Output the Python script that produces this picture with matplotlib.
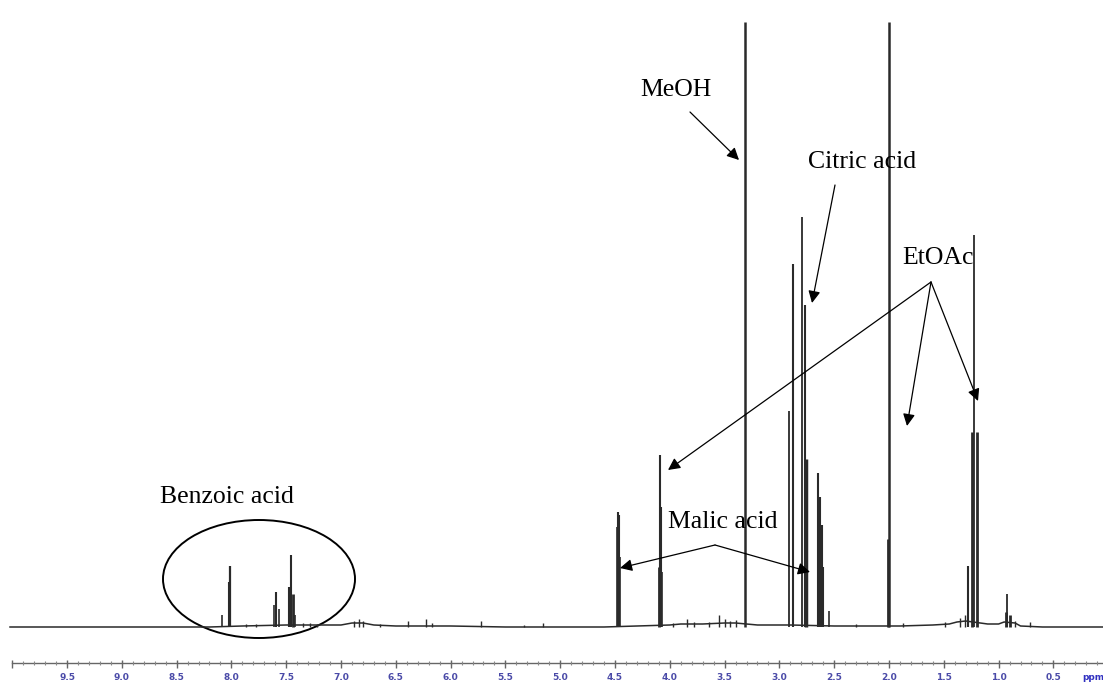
"""
1H NMR spectrum with annotated compounds (benzoic, malic, citric acid, MeOH, EtOAc).
"""

import numpy as np
import matplotlib.pyplot as plt
from matplotlib.patches import Ellipse

# peak list: shift (ppm), height above baseline, line width
peak_ppm = [8.09, 8.02, 8.01, 7.87, 7.78, 7.61, 7.59, 7.57, 7.47, 7.46, 7.44, 7.42,
            7.35, 7.28, 7.22, 6.88, 6.84, 6.80, 6.64, 6.39, 6.22, 6.17, 5.72, 5.33, 5.16,
            4.48, 4.47, 4.46, 4.45, 4.10, 4.09, 4.08, 4.07,
            3.97, 3.84, 3.78, 3.64, 3.55, 3.50, 3.45, 3.40,
            3.31,
            2.91, 2.88, 2.79, 2.77, 2.76, 2.65, 2.63, 2.61, 2.60, 2.55, 2.30,
            2.00, 2.01, 1.87, 1.49, 1.35, 1.31, 1.28, 1.24, 1.22, 1.20,
            0.93, 0.92, 0.90, 0.85, 0.71]
peak_height = [12, 45, 61, 3, 3, 22, 35, 18, 40, 72, 33, 12,
               4, 4, 3, 6, 8, 6, 3, 6, 8, 4, 6, 2, 4,
               100, 115, 112, 70, 60, 172, 120, 55,
               4, 8, 5, 5, 12, 8, 6, 7,
               605,
               216, 363, 410, 322, 168, 154, 130, 102, 60, 16, 3,
               605, 88, 4, 5, 9, 12, 61, 195, 392, 195,
               15, 33, 12, 6, 5]
peak_lw = [1.2, 1.5, 1.6, 1, 1, 1.2, 1.5, 1.2, 1.5, 1.5, 2, 1.2,
           1, 1, 1, 1, 1, 1, 1, 1, 1, 1, 1, 1, 1,
           1.2, 1.5, 1.5, 1.2, 2, 1.5, 1.5, 1.2,
           1, 1, 1, 1, 1, 1, 1, 1,
           1.8,
           1.3, 1.5, 1.3, 1.5, 2.5, 1.5, 1.5, 1.5, 1.5, 1.2, 1,
           1.8, 2, 1, 1, 1, 1, 1.5, 2, 1.3, 2,
           2, 1.3, 2, 1, 1]

# slow baseline wander between the peaks
base_ppm = [10.02, 8.2, 7.9, 7.5, 7.3, 7.0, 6.9, 6.8, 6.7, 6.5, 6.0, 5.5, 5.0, 4.6,
            4.3, 4.0, 3.9, 3.7, 3.5, 3.4, 3.2, 2.9, 2.5, 2.2, 1.9, 1.6, 1.45, 1.38,
            1.3, 1.1, 1.0, 0.95, 0.85, 0.8, 0.6, 0.0]
base_height = [0, 0, 1, 2, 2, 2, 4, 4, 2, 1, 1, 0, 0, 0,
               1, 2, 3, 3, 4, 4, 2, 2, 1, 1, 1, 2, 3, 5,
               6, 3, 3, 5, 4, 1, 0, 0]

tick_major = [10.0, 9.5, 9.0, 8.5, 8.0, 7.5, 7.0, 6.5, 6.0, 5.5, 5.0,
              4.5, 4.0, 3.5, 3.0, 2.5, 2.0, 1.5, 1.0, 0.5, 0.0]
tick_labels = ['9.5', '9.0', '8.5', '8.0', '7.5', '7.0', '6.5', '6.0', '5.5', '5.0',
               '4.5', '4.0', '3.5', '3.0', '2.5', '2.0', '1.5', '1.0', '0.5']


def px(x, y):
    """pixel position in the 1103x684 image -> (ppm, height)"""
    return 9.5 - (x - 67) / 109.6, 627 - y


fig = plt.figure(figsize=(11.03, 6.84), dpi=100)
ax = fig.add_axes([0, 0, 1, 1])
ax.set_xlim(px(0, 0)[0], px(1103, 0)[0])
ax.set_ylim(627 - 684, 627)
ax.axis('off')

# spectrum
ax.plot(base_ppm, base_height, color='#2a2a2a', lw=1.1)
ax.vlines(peak_ppm, 0, peak_height, colors='#2a2a2a', linewidths=peak_lw)

# ppm scale
axis_y = 627 - 663
ax.plot([10.0, px(1103, 0)[0]], [axis_y, axis_y], color='#666666', lw=1.0)
minor = np.round(np.arange(0.1, 10.0, 0.1), 1)
ax.vlines(minor, axis_y - 2, axis_y + 2, colors='#888888', linewidths=0.8)
ax.vlines(tick_major, axis_y - 5, axis_y + 3, colors='#666666', linewidths=1.0)
for t, lab in zip(tick_major[1:], tick_labels):
    ax.text(t, 627 - 678, lab, ha='center', va='center', fontsize=6.5,
            fontweight='bold', color='#4a4aa8')
ax.text(px(1082, 0)[0], 627 - 678, 'ppm', ha='left', va='center', fontsize=6.5,
        fontweight='bold', color='#3030c0')

# annotations
font = dict(family='Liberation Serif', fontsize=18.5, color='black')
arrow = dict(arrowstyle='-|>', color='black', lw=0.9, mutation_scale=18,
             shrinkA=0, shrinkB=0)

ax.text(*px(676, 90), 'MeOH', ha='center', va='center', **font)
ax.annotate('', xy=px(739, 160), xytext=px(690, 112), arrowprops=arrow)

ax.text(*px(862, 162), 'Citric acid', ha='center', va='center', **font)
ax.annotate('', xy=px(812, 303), xytext=px(835, 185), arrowprops=arrow)

ax.text(*px(938, 258), 'EtOAc', ha='center', va='center', **font)
for head in [(668, 470), (907, 426), (978, 401)]:
    ax.annotate('', xy=px(*head), xytext=px(931, 282), arrowprops=arrow)

ax.text(*px(723, 522), 'Malic acid', ha='center', va='center', **font)
for head in [(620, 568), (810, 572)]:
    ax.annotate('', xy=px(*head), xytext=px(715, 545), arrowprops=arrow)

ax.text(*px(227, 497), 'Benzoic acid', ha='center', va='center', **font)
cx, cy = px(259, 579)
ax.add_patch(Ellipse((cx, cy), width=192 / 109.6, height=118, fill=False,
                     edgecolor='black', lw=1.4))

fig.savefig('out.png', dpi=100)
